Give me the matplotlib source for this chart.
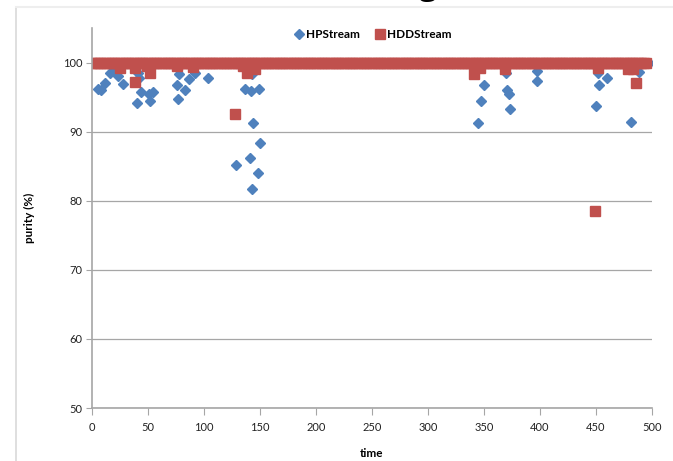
import matplotlib.pyplot as plt
import matplotlib.lines as mlines
import numpy as np

# ---------------------------------------------------------------------------
# Data (time, purity %)
# ---------------------------------------------------------------------------

# both streams sit at 100 % for most of the run
hdd_steady_time = np.arange(0, 496, 2.5)
hp_steady_time = np.arange(0, 499, 2.5)

hdd_dip_time = [25, 38, 38.4, 48.8, 51.8, 75.6, 90, 127.7, 135, 138, 145.5,
                341, 346.4, 368.8, 449, 452, 479, 483, 485.7]
hdd_dip_purity = [99.2, 99.2, 97.2, 99.5, 98.5, 99.5, 99.3, 92.5, 99.5, 98.5, 99.0,
                  98.4, 99.2, 99.1, 78.5, 99.2, 99.1, 99.0, 97.1]

hp_dip_time = [5.7, 8, 11.6, 16, 20, 23.5, 27.4, 39.9, 41.4, 42, 43.8,
               51.2, 51.8, 54.2, 75.6, 77, 78, 83, 86.9, 92, 103.9,
               129, 136.6, 141, 142, 143, 143, 143.8, 148, 149, 150,
               345, 347, 350, 370, 370.8, 372.3, 373, 397, 397.6,
               449.7, 452, 453, 459.5, 481, 488.7]
hp_dip_purity = [96.2, 96.0, 97.1, 98.5, 99.3, 98.1, 96.9, 94.1, 98.5, 97.8, 95.8,
                 95.4, 94.5, 95.8, 96.8, 94.7, 98.4, 96.0, 97.6, 98.5, 97.8,
                 85.2, 96.2, 86.2, 95.9, 81.7, 98.3, 91.2, 84.0, 96.1, 88.3,
                 91.3, 94.4, 96.7, 98.5, 96.0, 95.5, 93.3, 97.3, 98.8,
                 93.7, 98.5, 96.7, 97.8, 91.4, 98.7]

x_ticks = list(range(0, 501, 50))
y_ticks = list(range(50, 101, 10))

HP_COLOR = "#4F81BD"
HDD_COLOR = "#C0504D"
GRID = "#a6a6a6"

plt.rcParams['font.family'] = ['Lato', 'DejaVu Sans']

fig = plt.figure(figsize=(6.73, 4.61), dpi=100)

# outer chart frame (only its top-left corner is inside the picture)
fig.add_artist(mlines.Line2D([16 / 673, 16 / 673], [0, 1 - 7 / 461],
                             color="#d9d9d9", lw=1.2, transform=fig.transFigure))
fig.add_artist(mlines.Line2D([16 / 673, 1], [1 - 7 / 461, 1 - 7 / 461],
                             color="#eeeeee", lw=1.5, transform=fig.transFigure))
# cut-off title glyph above the frame: only its descender shows
fig.text(428 / 673, 1 + 6 / 461, "g", fontsize=24, ha="center", va="baseline",
         family=['Open Sans', 'DejaVu Sans'])

ax = fig.add_axes([92 / 673, 1 - 408 / 461, (652 - 92) / 673, (408 - 28) / 461])

# HPStream under HDDStream
ax.plot(hp_steady_time, np.full(len(hp_steady_time), 100.0), linestyle="none",
        marker="D", ms=4.8, color=HP_COLOR, mec=HP_COLOR)
ax.plot(hp_dip_time, hp_dip_purity, linestyle="none",
        marker="D", ms=4.8, color=HP_COLOR, mec=HP_COLOR)
ax.plot(hdd_steady_time, np.full(len(hdd_steady_time), 100.0), linestyle="none",
        marker="s", ms=6.5, color=HDD_COLOR, mec=HDD_COLOR)
ax.plot(hdd_dip_time, hdd_dip_purity, linestyle="none",
        marker="s", ms=6.5, color=HDD_COLOR, mec=HDD_COLOR)

ax.set_xlim(0, 500)
ax.set_ylim(50, 105)
ax.set_xticks(x_ticks)
ax.set_yticks(y_ticks)
ax.yaxis.grid(True, color=GRID, lw=0.9)
ax.set_axisbelow(True)

for side in ("top", "right"):
    ax.spines[side].set_visible(False)
for side in ("left", "bottom"):
    ax.spines[side].set_color(GRID)
    ax.spines[side].set_linewidth(1.2)

ax.tick_params(axis="both", colors=GRID, labelcolor="#222222", labelsize=8,
               direction="out")
ax.tick_params(axis="x", length=5, pad=5)
ax.tick_params(axis="y", length=4, pad=3)

ax.set_xlabel("time", fontsize=8.5, fontweight="bold", labelpad=11)
ax.set_ylabel("purity (%)", fontsize=8.5, fontweight="bold", labelpad=20)

handles = [
    mlines.Line2D([], [], linestyle="none", marker="D", ms=4.8, color=HP_COLOR,
                  label="HPStream"),
    mlines.Line2D([], [], linestyle="none", marker="s", ms=6.5, color=HDD_COLOR,
                  label="HDDStream"),
]
leg = fig.legend(handles=handles, loc="center", bbox_to_anchor=(372 / 673, 1 - 35 / 461),
                 ncol=2, frameon=False, fontsize=8.5, handletextpad=0.1,
                 columnspacing=1.2, handlelength=1.0)
for t in leg.get_texts():
    t.set_fontweight("bold")

plt.savefig("out.png", dpi=100)
